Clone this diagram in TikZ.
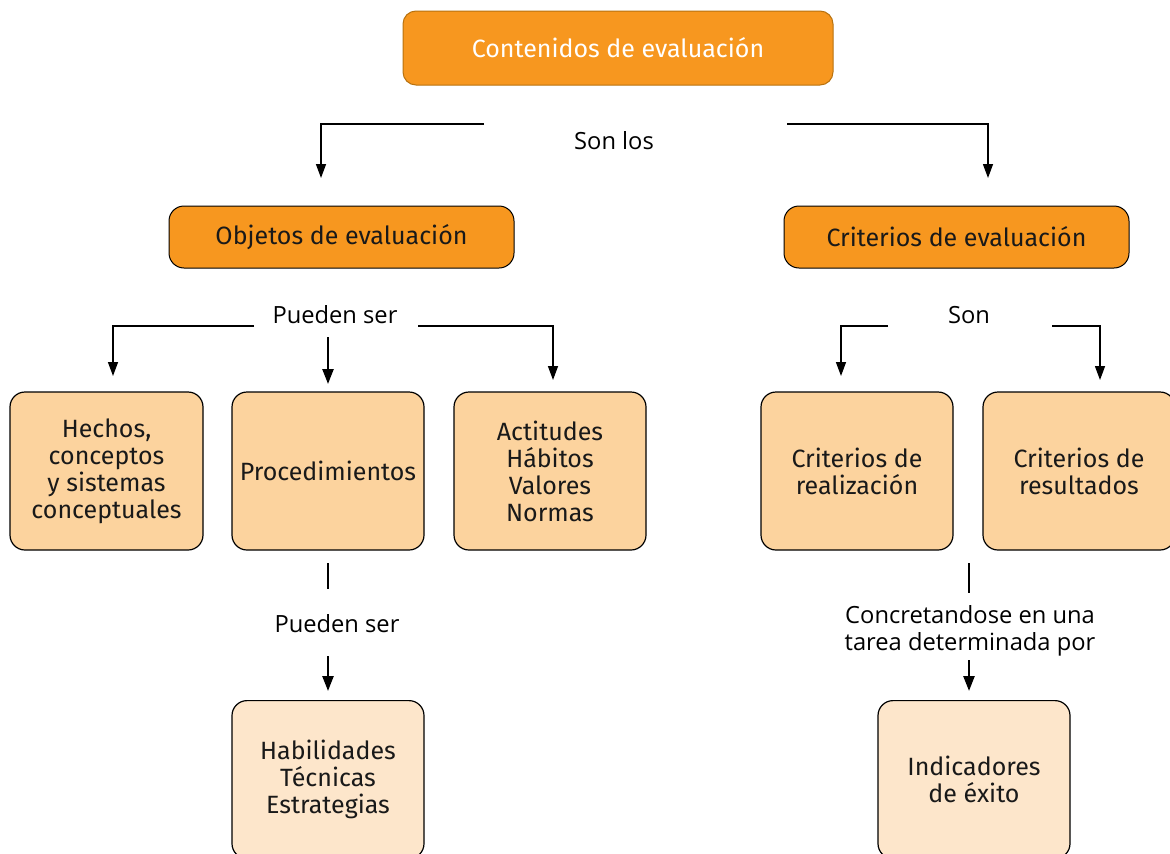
\documentclass[tikz,border=0pt]{standalone}
\usepackage{fontspec}
\setmainfont{Fira Sans}
\newfontfamily\labfont{Open Sans}
\usetikzlibrary{arrows.meta}
\definecolor{topor}{HTML}{F7971F}
\definecolor{topbd}{HTML}{B8720F}
\definecolor{midor}{HTML}{FCD39E}
\definecolor{lowor}{HTML}{FDE6CB}
\tikzset{
  box/.style={draw=black, line width=1.2pt, rounded corners=15pt, align=center, inner sep=0pt,
    font=\fontsize{25}{27}\selectfont, text=black!90},
  topbox/.style={box, fill=topor, draw=topbd, line width=1pt},
  midbox/.style={box, fill=midor},
  lowbox/.style={box, fill=lowor},
  lab/.style={font=\labfont\fontsize{23.7}{27}\selectfont, align=center, inner sep=0pt},
  conn/.style={line width=1.4pt, -{Triangle[width=10pt,length=14pt]}},
  thick conn/.style={line width=2.4pt, -{Triangle[width=11pt,length=15pt]}},
  seg/.style={line width=2.4pt},
}
\begin{document}
\begin{tikzpicture}[x=1pt,y=-1pt]
\clip (0,0) rectangle (1170,854);
\fill[white] (0,0) rectangle (1170,854);
% boxes
\node[topbox, minimum width=430pt, minimum height=74pt, rounded corners=13pt, text=white] (cont) at (618,48) {Contenidos de evaluación};
\node[topbox, minimum width=345pt, minimum height=62pt, draw=black] (obj) at (341.5,237) {Objetos de evaluación};
\node[topbox, minimum width=345pt, minimum height=62pt, draw=black] (crit) at (956.5,237) {Criterios de evaluación};
\node[midbox, minimum width=193pt, minimum height=158pt] (hech) at (106.5,471) {Hechos,\\conceptos\\y sistemas\\conceptuales};
\node[midbox, minimum width=192pt, minimum height=158pt] (proc) at (328,471) {Procedimientos};
\node[midbox, minimum width=192pt, minimum height=158pt] (act) at (550,471) {Actitudes\\Hábitos\\Valores\\Normas};
\node[midbox, minimum width=192pt, minimum height=158pt] (creal) at (857,471) {Criterios de\\realización};
\node[midbox, minimum width=192pt, minimum height=158pt] (cres) at (1079,471) {Criterios de\\resultados};
\node[lowbox, minimum width=192pt, minimum height=158pt, anchor=north] (hab) at (328,700) {Habilidades\\Técnicas\\Estrategias};
\node[lowbox, minimum width=192pt, minimum height=158pt, anchor=north] (ind) at (974,700) {Indicadores\\de éxito};
% labels
\node[lab] (sonlos) at (614,141) {Son los};
\node[lab] (pueden1) at (335,315) {Pueden ser};
\node[lab] (son) at (969,315) {Son};
\node[lab] (pueden2) at (337,624) {Pueden ser};
\node[lab] (concr) at (970,631) {Concretandose en una\\tarea determinada por};
% coordinates
\coordinate (a1) at (484,124);
\coordinate (a2) at (787,124);
\coordinate (aL) at (321,178);
\coordinate (aR) at (988,178);
\coordinate (b1) at (254,326);
\coordinate (b2) at (418,326);
\coordinate (bL) at (113,376);
\coordinate (bC0) at (328,337);
\coordinate (bC) at (328,384);
\coordinate (bR) at (553,380);
\coordinate (c1) at (888,326);
\coordinate (c2) at (1052,326);
\coordinate (cL) at (841,376);
\coordinate (cR) at (1100,380);
\coordinate (d0) at (328,563);
\coordinate (d1) at (328,589);
\coordinate (d2) at (328,656);
\coordinate (d3) at (328,691);
\coordinate (e0) at (969,563);
\coordinate (e1) at (969,593);
\coordinate (e2) at (969,660);
\coordinate (e3) at (969,691);
% connectors
\draw[conn] (a1) -| (aL);
\draw[conn] (a2) -| (aR);
\draw[conn] (b1) -| (bL);
\draw[thick conn] (bC0) -- (bC);
\draw[conn] (b2) -| (bR);
\draw[conn] (c1) -| (cL);
\draw[conn] (c2) -| (cR);
\draw[seg] (d0) -- (d1);
\draw[thick conn] (d2) -- (d3);
\draw[seg] (e0) -- (e1);
\draw[thick conn] (e2) -- (e3);
\end{tikzpicture}
\end{document}
